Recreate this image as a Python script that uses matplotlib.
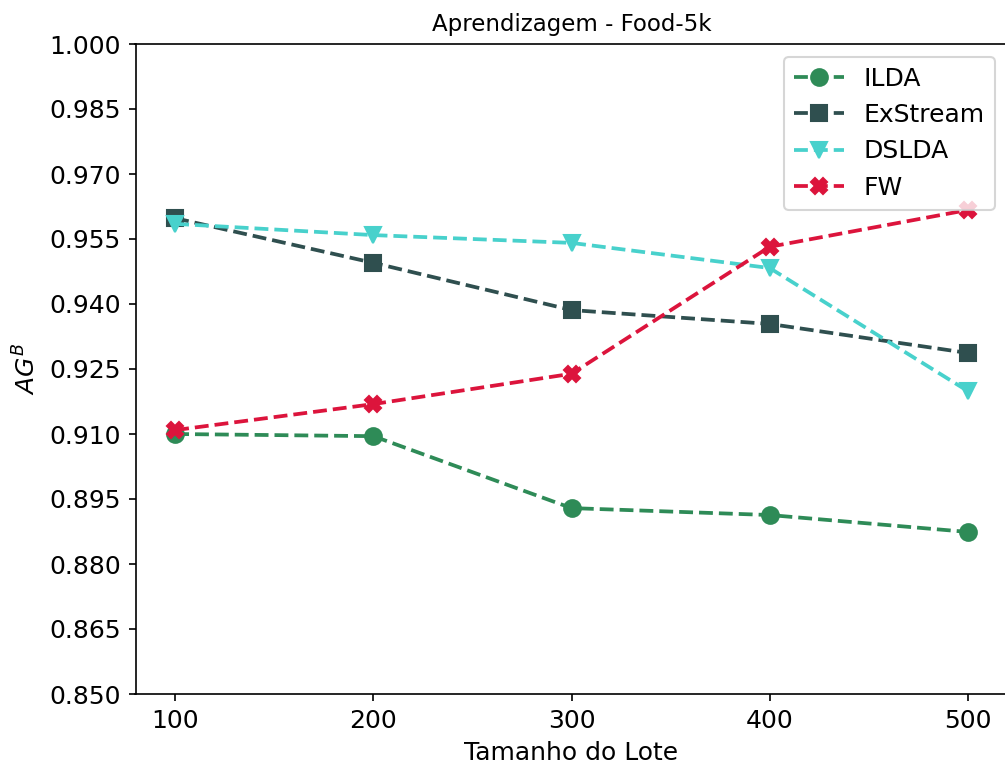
import numpy as np
import matplotlib.pyplot as plt

lotes = [100, 200, 300, 400, 500]
ilda = [0.9100, 0.9095, 0.8929, 0.8913, 0.8874]
exstream = [0.9598, 0.9495, 0.9386, 0.9354, 0.9287]
dslda = [0.9585, 0.9559, 0.9541, 0.9483, 0.9199]
fw = [0.9109, 0.9169, 0.9239, 0.9532, 0.9617]

series = [
    ("ILDA", ilda, "seagreen", "o"),
    ("ExStream", exstream, "darkslategray", "s"),
    ("DSLDA", dslda, "mediumturquoise", "v"),
    ("FW", fw, "crimson", "X"),
]

fig = plt.figure(figsize=(6.7, 769 / 150), dpi=150)
ax = fig.add_axes([135.5 / 1005, 1 - 694 / 769, (1007.5 - 135.5) / 1005, (694 - 44) / 769])

for name, vals, col, mk in series:
    ax.plot(lotes, vals, ls="--", marker=mk, color=col, lw=1.8, ms=8, label=name)

ax.set_xlim(80, 520)
ax.set_ylim(0.85, 1.0)
ax.set_xticks(lotes)
ax.set_yticks(np.arange(0.85, 1.0001, 0.015))
ax.set_yticklabels([f"{v:.3f}" for v in np.arange(0.85, 1.0001, 0.015)])
ax.tick_params(labelsize=12)
ax.set_title("Aprendizagem - Food-5k", fontsize=11)
ax.set_xlabel("Tamanho do Lote", fontsize=12)
ax.set_ylabel("$AG^B$", fontsize=12)
ax.legend(loc="upper right", fontsize=12)

fig.savefig("out.png", dpi=150)
